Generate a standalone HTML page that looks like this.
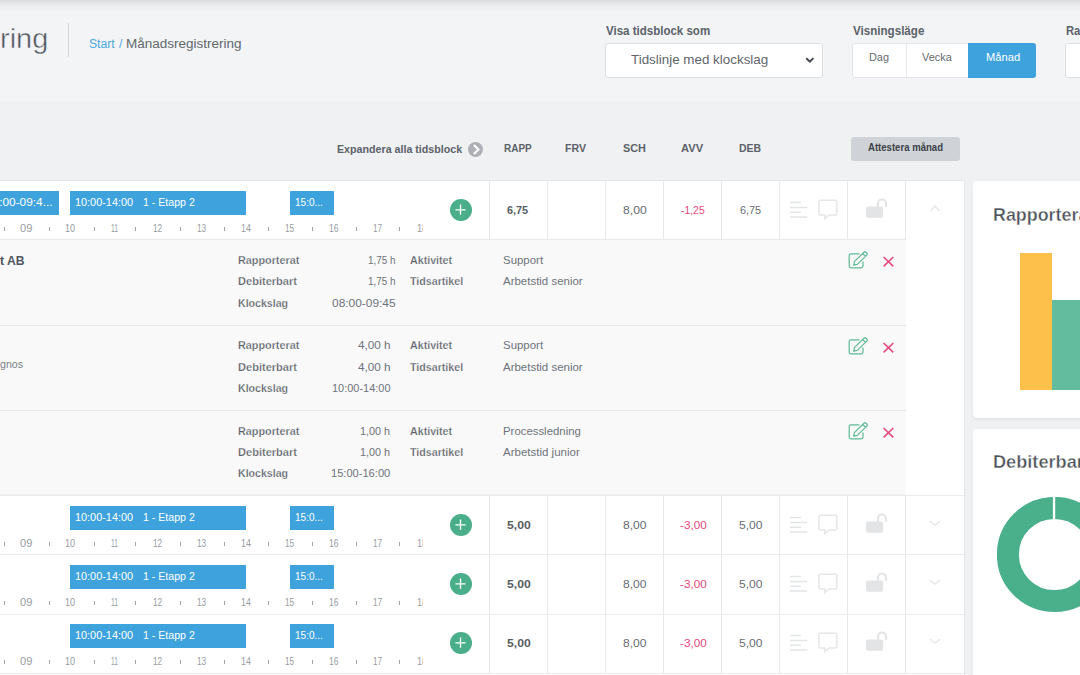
<!DOCTYPE html>
<html><head><meta charset="utf-8"><style>
html,body{margin:0;padding:0;}
body{width:1080px;height:675px;overflow:hidden;position:relative;background:#f0f1f3;font-family:"Liberation Sans", sans-serif;}
.t{position:absolute;white-space:nowrap;}
.r{position:absolute;}
.clip{position:absolute;overflow:hidden;}
.card{position:absolute;background:#fff;border-radius:4px;box-shadow:0 2px 3px rgba(0,0,0,0.06);}
</style></head><body>
<div class="r" style="left:0px;top:0px;width:1080px;height:101px;background:linear-gradient(#dbdcdf 0px,#dfe0e3 1.5px,#e5e6e8 3.5px,#ebecee 6px,#f0f1f3 9px,#f3f4f6 12px);"></div>
<div class="t" style="left:-0.33px;top:24.70px;font-size:28px;line-height:28px;color:#51575e;font-weight:400;transform:scaleX(1.0336);transform-origin:0 0;-webkit-text-stroke:0.45px #f3f4f6;paint-order:normal;">ring</div>
<div class="r" style="left:68px;top:23px;width:1px;height:34px;background:#d3d6d9;"></div>
<div class="t" style="left:88.70px;top:37.72px;font-size:12.5px;line-height:12.5px;color:#4aa8e0;font-weight:400;transform:scaleX(0.9731);transform-origin:0 0;">Start</div>
<div class="t" style="left:118.60px;top:37.72px;font-size:12.5px;line-height:12.5px;color:#4aa8e0;font-weight:400;transform:scaleX(0.9750);transform-origin:0 0;">/</div>
<div class="t" style="left:125.82px;top:37.72px;font-size:12.5px;line-height:12.5px;color:#61676d;font-weight:400;transform:scaleX(1.0788);transform-origin:0 0;">Månadsregistrering</div>
<div class="t" style="left:605.60px;top:25.39px;font-size:12.3px;line-height:12.3px;color:#5c6269;font-weight:700;transform:scaleX(0.9367);transform-origin:0 0;">Visa tidsblock som</div>
<div class="r" style="left:605px;top:43px;width:218px;height:35px;background:#fff;border:1px solid #dcdfe2;border-radius:3px;box-sizing:border-box;"></div>
<div class="t" style="left:631.25px;top:53.36px;font-size:13.4px;line-height:13.4px;color:#5f656b;font-weight:400;transform:scaleX(1.0001);transform-origin:0 0;">Tidslinje med klockslag</div>
<svg class="r" style="left:805px;top:56px" width="11" height="8" viewBox="0 0 11 8"><path d="M1.3 2.3 L4.9 5.7 L8.4 2.2" fill="none" stroke="#40464d" stroke-width="1.9"/></svg>
<div class="t" style="left:852.70px;top:25.39px;font-size:12.3px;line-height:12.3px;color:#5c6269;font-weight:700;transform:scaleX(0.9434);transform-origin:0 0;">Visningsläge</div>
<div class="r" style="left:852px;top:43px;width:184px;height:35px;background:#fff;border:1px solid #e2e4e7;border-radius:3px;box-sizing:border-box;"></div>
<div class="r" style="left:906px;top:44px;width:1px;height:33px;background:#e6e8ea;"></div>
<div class="r" style="left:968px;top:43px;width:68px;height:35px;background:#3ea3dd;border-radius:0 3px 3px 0;"></div>
<div class="t" style="left:869.40px;top:52.33px;font-size:11.3px;line-height:11.3px;color:#656b71;font-weight:400;transform:scaleX(0.9637);transform-origin:0 0;">Dag</div>
<div class="t" style="left:921.90px;top:52.33px;font-size:11.3px;line-height:11.3px;color:#656b71;font-weight:400;transform:scaleX(0.9685);transform-origin:0 0;">Vecka</div>
<div class="t" style="left:985.50px;top:52.33px;font-size:11.3px;line-height:11.3px;color:#ffffff;font-weight:400;transform:scaleX(0.9866);transform-origin:0 0;">Månad</div>
<div class="t" style="left:1066.00px;top:25.39px;font-size:12.3px;line-height:12.3px;color:#5c6269;font-weight:700;transform:scaleX(0.9131);transform-origin:0 0;">Ra</div>
<div class="r" style="left:1065px;top:43px;width:40px;height:35px;background:#fff;border:1px solid #dcdfe2;border-radius:3px;box-sizing:border-box;"></div>
<div class="t" style="left:337.20px;top:144.27px;font-size:11.5px;line-height:11.5px;color:#5c6269;font-weight:700;transform:scaleX(0.9280);transform-origin:0 0;">Expandera alla tidsblock</div>
<svg class="r" style="left:468.4px;top:141.9px" width="15" height="15" viewBox="0 0 15 15"><circle cx="7.5" cy="7.5" r="7.5" fill="#adb1b5"/><path d="M5.9 3 L10.4 7.6 L5.9 12" fill="none" stroke="#fff" stroke-width="2.2"/></svg>
<div class="t" style="left:503.90px;top:143.27px;font-size:11.5px;line-height:11.5px;color:#5c6269;font-weight:700;transform:scaleX(0.8674);transform-origin:0 0;">RAPP</div>
<div class="t" style="left:565.00px;top:143.27px;font-size:11.5px;line-height:11.5px;color:#5c6269;font-weight:700;transform:scaleX(0.9255);transform-origin:0 0;">FRV</div>
<div class="t" style="left:622.70px;top:143.27px;font-size:11.5px;line-height:11.5px;color:#5c6269;font-weight:700;transform:scaleX(0.9426);transform-origin:0 0;">SCH</div>
<div class="t" style="left:680.90px;top:143.27px;font-size:11.5px;line-height:11.5px;color:#5c6269;font-weight:700;transform:scaleX(0.9688);transform-origin:0 0;">AVV</div>
<div class="t" style="left:739.30px;top:143.27px;font-size:11.5px;line-height:11.5px;color:#5c6269;font-weight:700;transform:scaleX(0.9093);transform-origin:0 0;">DEB</div>
<div class="r" style="left:851px;top:137px;width:108.5px;height:23.5px;background:#cfd3d7;border-radius:3px;"></div>
<div class="t" style="left:868.20px;top:142.41px;font-size:10.5px;line-height:10.5px;color:#3c4148;font-weight:700;transform:scaleX(0.9113);transform-origin:0 0;">Attestera månad</div>
<div class="r" style="left:0px;top:180px;width:964px;height:59px;background:#fff;"></div>
<div class="r" style="left:0px;top:180px;width:964px;height:1px;background:#e4e5e7;"></div>
<div class="clip" style="left:0;top:180px;width:423px;height:59px;">
<div class="r" style="left:-20px;top:11px;width:79px;height:24px;background:#3ea3dd;"></div>
<div class="t" style="left:-13.64px;top:17.03px;font-size:11.3px;line-height:11.3px;color:#fff;font-weight:400;transform:scaleX(1.0497);transform-origin:0 0;">08:00-09:4...</div>
<div class="r" style="left:70px;top:11px;width:176px;height:24px;background:#3ea3dd;"></div>
<div class="t" style="left:75.40px;top:17.03px;font-size:11.3px;line-height:11.3px;color:#fff;font-weight:400;transform:scaleX(0.9630);transform-origin:0 0;">10:00-14:00</div>
<div class="t" style="left:143.40px;top:17.03px;font-size:11.3px;line-height:11.3px;color:#fff;font-weight:400;transform:scaleX(0.9367);transform-origin:0 0;">1 - Etapp 2</div>
<div class="r" style="left:290px;top:11px;width:44px;height:24px;background:#3ea3dd;"></div>
<div class="t" style="left:295.20px;top:17.03px;font-size:11.3px;line-height:11.3px;color:#fff;font-weight:400;transform:scaleX(0.8860);transform-origin:0 0;">15:0...</div>
<div class="t" style="left:19.90px;top:43.43px;font-size:11.3px;line-height:11.3px;color:#979ca1;font-weight:400;transform:scaleX(0.9770);transform-origin:0 0;">09</div>
<div class="t" style="left:65.00px;top:43.43px;font-size:11.3px;line-height:11.3px;color:#979ca1;font-weight:400;transform:scaleX(0.7979);transform-origin:0 0;">10</div>
<div class="t" style="left:110.50px;top:43.43px;font-size:11.3px;line-height:11.3px;color:#979ca1;font-weight:400;transform:scaleX(0.5942);transform-origin:0 0;">11</div>
<div class="t" style="left:153.10px;top:43.43px;font-size:11.3px;line-height:11.3px;color:#979ca1;font-weight:400;transform:scaleX(0.7327);transform-origin:0 0;">12</div>
<div class="t" style="left:197.00px;top:43.43px;font-size:11.3px;line-height:11.3px;color:#979ca1;font-weight:400;transform:scaleX(0.7327);transform-origin:0 0;">13</div>
<div class="t" style="left:241.00px;top:43.43px;font-size:11.3px;line-height:11.3px;color:#979ca1;font-weight:400;transform:scaleX(0.7816);transform-origin:0 0;">14</div>
<div class="t" style="left:285.30px;top:43.43px;font-size:11.3px;line-height:11.3px;color:#979ca1;font-weight:400;transform:scaleX(0.7246);transform-origin:0 0;">15</div>
<div class="t" style="left:329.20px;top:43.43px;font-size:11.3px;line-height:11.3px;color:#979ca1;font-weight:400;transform:scaleX(0.7572);transform-origin:0 0;">16</div>
<div class="t" style="left:373.10px;top:43.43px;font-size:11.3px;line-height:11.3px;color:#979ca1;font-weight:400;transform:scaleX(0.7246);transform-origin:0 0;">17</div>
<div class="t" style="left:417.10px;top:43.43px;font-size:11.3px;line-height:11.3px;color:#979ca1;font-weight:400;transform:scaleX(0.8060);transform-origin:0 0;">18</div>
<div class="r" style="left:4px;top:47px;width:1.2px;height:4px;background:#a0a5aa;"></div>
<div class="r" style="left:49px;top:47px;width:1.2px;height:4px;background:#a0a5aa;"></div>
<div class="r" style="left:94px;top:47px;width:1.2px;height:4px;background:#a0a5aa;"></div>
<div class="r" style="left:135px;top:47px;width:1.2px;height:4px;background:#a0a5aa;"></div>
<div class="r" style="left:180px;top:47px;width:1.2px;height:4px;background:#a0a5aa;"></div>
<div class="r" style="left:224px;top:47px;width:1.2px;height:4px;background:#a0a5aa;"></div>
<div class="r" style="left:268px;top:47px;width:1.2px;height:4px;background:#a0a5aa;"></div>
<div class="r" style="left:312px;top:47px;width:1.2px;height:4px;background:#a0a5aa;"></div>
<div class="r" style="left:356px;top:47px;width:1.2px;height:4px;background:#a0a5aa;"></div>
<div class="r" style="left:399px;top:47px;width:1.2px;height:4px;background:#a0a5aa;"></div>
</div>
<svg class="r" style="left:450px;top:198.9px" width="22" height="22" viewBox="0 0 22 22"><circle cx="11" cy="11" r="11" fill="#4aae8a"/><path d="M10.5 5.6 V15.8 M5.4 10.8 H15.6" stroke="#fff" stroke-width="1.35"/></svg>
<div class="r" style="left:489px;top:180px;width:1px;height:59px;background:#e8e9eb;"></div>
<div class="r" style="left:547px;top:180px;width:1px;height:59px;background:#e8e9eb;"></div>
<div class="r" style="left:605px;top:180px;width:1px;height:59px;background:#e8e9eb;"></div>
<div class="r" style="left:663px;top:180px;width:1px;height:59px;background:#e8e9eb;"></div>
<div class="r" style="left:721px;top:180px;width:1px;height:59px;background:#e8e9eb;"></div>
<div class="r" style="left:779px;top:180px;width:1px;height:59px;background:#e8e9eb;"></div>
<div class="r" style="left:847px;top:180px;width:1px;height:59px;background:#e8e9eb;"></div>
<div class="r" style="left:905px;top:180px;width:1px;height:59px;background:#e8e9eb;"></div>
<div class="t" style="left:507.20px;top:204.67px;font-size:11.5px;line-height:11.5px;color:#575d63;font-weight:700;transform:scaleX(0.9440);transform-origin:0 0;">6,75</div>
<div class="t" style="left:622.60px;top:204.67px;font-size:11.5px;line-height:11.5px;color:#676c72;font-weight:400;transform:scaleX(1.0597);transform-origin:0 0;">8,00</div>
<div class="t" style="left:681.10px;top:204.67px;font-size:11.5px;line-height:11.5px;color:#e5467c;font-weight:400;transform:scaleX(0.9025);transform-origin:0 0;">-1,25</div>
<div class="t" style="left:740.30px;top:204.67px;font-size:11.5px;line-height:11.5px;color:#676c72;font-weight:400;transform:scaleX(0.9460);transform-origin:0 0;">6,75</div>
<svg class="r" style="left:789px;top:200px" width="20" height="20" viewBox="0 0 20 20"><path d="M1 2.6H12 M1 7.4H18.3 M1 12.2H12 M1 17H18.3" stroke="#e4e5e7" stroke-width="1.5"/></svg>
<svg class="r" style="left:818px;top:199px" width="20" height="21" viewBox="0 0 20 21"><path d="M2.2 1.15 H17.6 Q18.85 1.15 18.85 2.4 V14.8 Q18.85 16.05 17.6 16.05 H11.2 L6.8 19.6 V16.05 H2.2 Q0.95 16.05 0.95 14.8 V2.4 Q0.95 1.15 2.2 1.15 Z" fill="none" stroke="#e5e6e8" stroke-width="1.45"/></svg>
<svg class="r" style="left:865px;top:197px" width="24" height="22" viewBox="0 0 24 22"><path d="M13 10 V6.5 A4 4 0 0 1 21 6.5 V9.8" fill="none" stroke="#e3e4e6" stroke-width="2.2"/><rect x="1.1" y="9.5" width="17" height="11.3" rx="1.8" fill="#e3e4e6"/></svg>
<svg class="r" style="left:929px;top:204px" width="12" height="8" viewBox="0 0 12 8"><path d="M1.8 6.5 L6 2 L10.5 6.7" fill="none" stroke="#e6e7e9" stroke-width="1.4"/></svg>
<div class="r" style="left:0px;top:239px;width:964px;height:256px;background:#fff;"></div>
<div class="r" style="left:0px;top:239px;width:906px;height:256px;background:#f9f9f9;"></div>
<div class="r" style="left:0px;top:239px;width:906px;height:1px;background:#e8e9eb;"></div>
<div class="r" style="left:0px;top:494px;width:906px;height:1px;background:#eeeff1;"></div>
<div class="t" style="left:238.00px;top:255.49px;font-size:11px;line-height:11px;color:#585e65;font-weight:700;transform:scaleX(0.9828);transform-origin:0 0;-webkit-text-stroke:0.25px #f9f9f9;">Rapporterat</div>
<div class="t" style="left:238.00px;top:276.39px;font-size:11px;line-height:11px;color:#585e65;font-weight:700;transform:scaleX(1.0048);transform-origin:0 0;-webkit-text-stroke:0.25px #f9f9f9;">Debiterbart</div>
<div class="t" style="left:238.00px;top:297.99px;font-size:11px;line-height:11px;color:#585e65;font-weight:700;transform:scaleX(0.9620);transform-origin:0 0;-webkit-text-stroke:0.25px #f9f9f9;">Klockslag</div>
<div class="t" style="left:368.00px;top:255.49px;font-size:11px;line-height:11px;color:#6e7379;font-weight:400;transform:scaleX(0.9027);transform-origin:0 0;">1,75 h</div>
<div class="t" style="left:368.00px;top:276.39px;font-size:11px;line-height:11px;color:#6e7379;font-weight:400;transform:scaleX(0.9027);transform-origin:0 0;">1,75 h</div>
<div class="t" style="left:332.00px;top:297.99px;font-size:11px;line-height:11px;color:#6e7379;font-weight:400;transform:scaleX(1.0836);transform-origin:0 0;">08:00-09:45</div>
<div class="t" style="left:409.90px;top:255.49px;font-size:11px;line-height:11px;color:#585e65;font-weight:700;transform:scaleX(0.9695);transform-origin:0 0;-webkit-text-stroke:0.25px #f9f9f9;">Aktivitet</div>
<div class="t" style="left:409.90px;top:276.39px;font-size:11px;line-height:11px;color:#585e65;font-weight:700;transform:scaleX(0.9696);transform-origin:0 0;-webkit-text-stroke:0.25px #f9f9f9;">Tidsartikel</div>
<div class="t" style="left:503.00px;top:255.49px;font-size:11px;line-height:11px;color:#6e7379;font-weight:400;transform:scaleX(1.0398);transform-origin:0 0;">Support</div>
<div class="t" style="left:503.00px;top:276.39px;font-size:11px;line-height:11px;color:#6e7379;font-weight:400;transform:scaleX(1.0422);transform-origin:0 0;">Arbetstid senior</div>
<svg class="r" style="left:848px;top:251px" width="21" height="19" viewBox="0 0 21 19"><path d="M11.4 2.9 H3 Q1.2 2.9 1.2 4.7 V15 Q1.2 16.8 3 16.8 H13.2 Q15 16.8 15 15 V10.5" fill="none" stroke="#5dbb96" stroke-width="1.2"/><g transform="translate(5.6 14.1) rotate(-44)"><path d="M0 0 L3.2 -2 H16.4 Q17.9 -2 17.9 -0.5 V0.5 Q17.9 2 16.4 2 H3.2 Z M14.6 -2 V2" fill="none" stroke="#5dbb96" stroke-width="1.2" stroke-linejoin="round"/></g></svg>
<svg class="r" style="left:882px;top:254.5px" width="13" height="13" viewBox="0 0 13 13"><path d="M1.6 2 L11.3 11.3 M11.3 2 L1.6 11.3" stroke="#e5497f" stroke-width="1.6"/></svg>
<div class="r" style="left:0px;top:325px;width:906px;height:1px;background:#e7e8ea;"></div>
<div class="t" style="left:238.00px;top:340.49px;font-size:11px;line-height:11px;color:#585e65;font-weight:700;transform:scaleX(0.9828);transform-origin:0 0;-webkit-text-stroke:0.25px #f9f9f9;">Rapporterat</div>
<div class="t" style="left:238.00px;top:361.59px;font-size:11px;line-height:11px;color:#585e65;font-weight:700;transform:scaleX(1.0048);transform-origin:0 0;-webkit-text-stroke:0.25px #f9f9f9;">Debiterbart</div>
<div class="t" style="left:238.00px;top:383.09px;font-size:11px;line-height:11px;color:#585e65;font-weight:700;transform:scaleX(0.9620);transform-origin:0 0;-webkit-text-stroke:0.25px #f9f9f9;">Klockslag</div>
<div class="t" style="left:357.60px;top:340.49px;font-size:11px;line-height:11px;color:#6e7379;font-weight:400;transform:scaleX(1.0668);transform-origin:0 0;">4,00 h</div>
<div class="t" style="left:357.60px;top:361.59px;font-size:11px;line-height:11px;color:#6e7379;font-weight:400;transform:scaleX(1.0668);transform-origin:0 0;">4,00 h</div>
<div class="t" style="left:331.70px;top:383.09px;font-size:11px;line-height:11px;color:#6e7379;font-weight:400;transform:scaleX(0.9966);transform-origin:0 0;">10:00-14:00</div>
<div class="t" style="left:409.90px;top:340.49px;font-size:11px;line-height:11px;color:#585e65;font-weight:700;transform:scaleX(0.9695);transform-origin:0 0;-webkit-text-stroke:0.25px #f9f9f9;">Aktivitet</div>
<div class="t" style="left:409.90px;top:361.59px;font-size:11px;line-height:11px;color:#585e65;font-weight:700;transform:scaleX(0.9696);transform-origin:0 0;-webkit-text-stroke:0.25px #f9f9f9;">Tidsartikel</div>
<div class="t" style="left:503.00px;top:340.49px;font-size:11px;line-height:11px;color:#6e7379;font-weight:400;transform:scaleX(1.0398);transform-origin:0 0;">Support</div>
<div class="t" style="left:503.00px;top:361.59px;font-size:11px;line-height:11px;color:#6e7379;font-weight:400;transform:scaleX(1.0422);transform-origin:0 0;">Arbetstid senior</div>
<svg class="r" style="left:848px;top:337px" width="21" height="19" viewBox="0 0 21 19"><path d="M11.4 2.9 H3 Q1.2 2.9 1.2 4.7 V15 Q1.2 16.8 3 16.8 H13.2 Q15 16.8 15 15 V10.5" fill="none" stroke="#5dbb96" stroke-width="1.2"/><g transform="translate(5.6 14.1) rotate(-44)"><path d="M0 0 L3.2 -2 H16.4 Q17.9 -2 17.9 -0.5 V0.5 Q17.9 2 16.4 2 H3.2 Z M14.6 -2 V2" fill="none" stroke="#5dbb96" stroke-width="1.2" stroke-linejoin="round"/></g></svg>
<svg class="r" style="left:882px;top:340.5px" width="13" height="13" viewBox="0 0 13 13"><path d="M1.6 2 L11.3 11.3 M11.3 2 L1.6 11.3" stroke="#e5497f" stroke-width="1.6"/></svg>
<div class="r" style="left:0px;top:410px;width:906px;height:1px;background:#e7e8ea;"></div>
<div class="t" style="left:238.00px;top:425.79px;font-size:11px;line-height:11px;color:#585e65;font-weight:700;transform:scaleX(0.9828);transform-origin:0 0;-webkit-text-stroke:0.25px #f9f9f9;">Rapporterat</div>
<div class="t" style="left:238.00px;top:446.99px;font-size:11px;line-height:11px;color:#585e65;font-weight:700;transform:scaleX(1.0048);transform-origin:0 0;-webkit-text-stroke:0.25px #f9f9f9;">Debiterbart</div>
<div class="t" style="left:238.00px;top:468.09px;font-size:11px;line-height:11px;color:#585e65;font-weight:700;transform:scaleX(0.9620);transform-origin:0 0;-webkit-text-stroke:0.25px #f9f9f9;">Klockslag</div>
<div class="t" style="left:360.20px;top:425.79px;font-size:11px;line-height:11px;color:#6e7379;font-weight:400;transform:scaleX(0.9814);transform-origin:0 0;">1,00 h</div>
<div class="t" style="left:360.20px;top:446.99px;font-size:11px;line-height:11px;color:#6e7379;font-weight:400;transform:scaleX(0.9814);transform-origin:0 0;">1,00 h</div>
<div class="t" style="left:331.00px;top:468.09px;font-size:11px;line-height:11px;color:#6e7379;font-weight:400;transform:scaleX(1.0085);transform-origin:0 0;">15:00-16:00</div>
<div class="t" style="left:409.90px;top:425.79px;font-size:11px;line-height:11px;color:#585e65;font-weight:700;transform:scaleX(0.9695);transform-origin:0 0;-webkit-text-stroke:0.25px #f9f9f9;">Aktivitet</div>
<div class="t" style="left:409.90px;top:446.99px;font-size:11px;line-height:11px;color:#585e65;font-weight:700;transform:scaleX(0.9696);transform-origin:0 0;-webkit-text-stroke:0.25px #f9f9f9;">Tidsartikel</div>
<div class="t" style="left:503.00px;top:425.79px;font-size:11px;line-height:11px;color:#6e7379;font-weight:400;transform:scaleX(1.0347);transform-origin:0 0;">Processledning</div>
<div class="t" style="left:503.00px;top:446.99px;font-size:11px;line-height:11px;color:#6e7379;font-weight:400;transform:scaleX(1.0460);transform-origin:0 0;">Arbetstid junior</div>
<svg class="r" style="left:848px;top:422px" width="21" height="19" viewBox="0 0 21 19"><path d="M11.4 2.9 H3 Q1.2 2.9 1.2 4.7 V15 Q1.2 16.8 3 16.8 H13.2 Q15 16.8 15 15 V10.5" fill="none" stroke="#5dbb96" stroke-width="1.2"/><g transform="translate(5.6 14.1) rotate(-44)"><path d="M0 0 L3.2 -2 H16.4 Q17.9 -2 17.9 -0.5 V0.5 Q17.9 2 16.4 2 H3.2 Z M14.6 -2 V2" fill="none" stroke="#5dbb96" stroke-width="1.2" stroke-linejoin="round"/></g></svg>
<svg class="r" style="left:882px;top:425.5px" width="13" height="13" viewBox="0 0 13 13"><path d="M1.6 2 L11.3 11.3 M11.3 2 L1.6 11.3" stroke="#e5497f" stroke-width="1.6"/></svg>
<div class="t" style="left:-0.50px;top:254.20px;font-size:13px;line-height:13px;color:#50565d;font-weight:700;transform:scaleX(0.9305);transform-origin:0 0;">t AB</div>
<div class="t" style="left:-0.50px;top:359.26px;font-size:10.8px;line-height:10.8px;color:#7a7f85;font-weight:400;transform:scaleX(0.9828);transform-origin:0 0;">gnos</div>
<div class="r" style="left:0px;top:495px;width:964px;height:59px;background:#fff;"></div>
<div class="r" style="left:0px;top:495px;width:964px;height:1px;background:#eaebed;"></div>
<div class="clip" style="left:0;top:495px;width:423px;height:59px;">
<div class="r" style="left:70px;top:11px;width:176px;height:24px;background:#3ea3dd;"></div>
<div class="t" style="left:75.40px;top:17.03px;font-size:11.3px;line-height:11.3px;color:#fff;font-weight:400;transform:scaleX(0.9630);transform-origin:0 0;">10:00-14:00</div>
<div class="t" style="left:143.40px;top:17.03px;font-size:11.3px;line-height:11.3px;color:#fff;font-weight:400;transform:scaleX(0.9367);transform-origin:0 0;">1 - Etapp 2</div>
<div class="r" style="left:290px;top:11px;width:44px;height:24px;background:#3ea3dd;"></div>
<div class="t" style="left:295.20px;top:17.03px;font-size:11.3px;line-height:11.3px;color:#fff;font-weight:400;transform:scaleX(0.8860);transform-origin:0 0;">15:0...</div>
<div class="t" style="left:19.90px;top:43.43px;font-size:11.3px;line-height:11.3px;color:#979ca1;font-weight:400;transform:scaleX(0.9770);transform-origin:0 0;">09</div>
<div class="t" style="left:65.00px;top:43.43px;font-size:11.3px;line-height:11.3px;color:#979ca1;font-weight:400;transform:scaleX(0.7979);transform-origin:0 0;">10</div>
<div class="t" style="left:110.50px;top:43.43px;font-size:11.3px;line-height:11.3px;color:#979ca1;font-weight:400;transform:scaleX(0.5942);transform-origin:0 0;">11</div>
<div class="t" style="left:153.10px;top:43.43px;font-size:11.3px;line-height:11.3px;color:#979ca1;font-weight:400;transform:scaleX(0.7327);transform-origin:0 0;">12</div>
<div class="t" style="left:197.00px;top:43.43px;font-size:11.3px;line-height:11.3px;color:#979ca1;font-weight:400;transform:scaleX(0.7327);transform-origin:0 0;">13</div>
<div class="t" style="left:241.00px;top:43.43px;font-size:11.3px;line-height:11.3px;color:#979ca1;font-weight:400;transform:scaleX(0.7816);transform-origin:0 0;">14</div>
<div class="t" style="left:285.30px;top:43.43px;font-size:11.3px;line-height:11.3px;color:#979ca1;font-weight:400;transform:scaleX(0.7246);transform-origin:0 0;">15</div>
<div class="t" style="left:329.20px;top:43.43px;font-size:11.3px;line-height:11.3px;color:#979ca1;font-weight:400;transform:scaleX(0.7572);transform-origin:0 0;">16</div>
<div class="t" style="left:373.10px;top:43.43px;font-size:11.3px;line-height:11.3px;color:#979ca1;font-weight:400;transform:scaleX(0.7246);transform-origin:0 0;">17</div>
<div class="t" style="left:417.10px;top:43.43px;font-size:11.3px;line-height:11.3px;color:#979ca1;font-weight:400;transform:scaleX(0.8060);transform-origin:0 0;">18</div>
<div class="r" style="left:4px;top:47px;width:1.2px;height:4px;background:#a0a5aa;"></div>
<div class="r" style="left:49px;top:47px;width:1.2px;height:4px;background:#a0a5aa;"></div>
<div class="r" style="left:94px;top:47px;width:1.2px;height:4px;background:#a0a5aa;"></div>
<div class="r" style="left:135px;top:47px;width:1.2px;height:4px;background:#a0a5aa;"></div>
<div class="r" style="left:180px;top:47px;width:1.2px;height:4px;background:#a0a5aa;"></div>
<div class="r" style="left:224px;top:47px;width:1.2px;height:4px;background:#a0a5aa;"></div>
<div class="r" style="left:268px;top:47px;width:1.2px;height:4px;background:#a0a5aa;"></div>
<div class="r" style="left:312px;top:47px;width:1.2px;height:4px;background:#a0a5aa;"></div>
<div class="r" style="left:356px;top:47px;width:1.2px;height:4px;background:#a0a5aa;"></div>
<div class="r" style="left:399px;top:47px;width:1.2px;height:4px;background:#a0a5aa;"></div>
</div>
<svg class="r" style="left:450px;top:513.9px" width="22" height="22" viewBox="0 0 22 22"><circle cx="11" cy="11" r="11" fill="#4aae8a"/><path d="M10.5 5.6 V15.8 M5.4 10.8 H15.6" stroke="#fff" stroke-width="1.35"/></svg>
<div class="r" style="left:489px;top:495px;width:1px;height:59px;background:#e8e9eb;"></div>
<div class="r" style="left:547px;top:495px;width:1px;height:59px;background:#e8e9eb;"></div>
<div class="r" style="left:605px;top:495px;width:1px;height:59px;background:#e8e9eb;"></div>
<div class="r" style="left:663px;top:495px;width:1px;height:59px;background:#e8e9eb;"></div>
<div class="r" style="left:721px;top:495px;width:1px;height:59px;background:#e8e9eb;"></div>
<div class="r" style="left:779px;top:495px;width:1px;height:59px;background:#e8e9eb;"></div>
<div class="r" style="left:847px;top:495px;width:1px;height:59px;background:#e8e9eb;"></div>
<div class="r" style="left:905px;top:495px;width:1px;height:59px;background:#e8e9eb;"></div>
<div class="t" style="left:506.70px;top:519.67px;font-size:11.5px;line-height:11.5px;color:#575d63;font-weight:700;transform:scaleX(1.0597);transform-origin:0 0;">5,00</div>
<div class="t" style="left:622.90px;top:519.67px;font-size:11.5px;line-height:11.5px;color:#676c72;font-weight:400;transform:scaleX(1.0506);transform-origin:0 0;">8,00</div>
<div class="t" style="left:679.60px;top:519.67px;font-size:11.5px;line-height:11.5px;color:#e5467c;font-weight:400;transform:scaleX(1.0226);transform-origin:0 0;">-3,00</div>
<div class="t" style="left:739.00px;top:519.67px;font-size:11.5px;line-height:11.5px;color:#676c72;font-weight:400;transform:scaleX(1.0461);transform-origin:0 0;">5,00</div>
<svg class="r" style="left:789px;top:515px" width="20" height="20" viewBox="0 0 20 20"><path d="M1 2.6H12 M1 7.4H18.3 M1 12.2H12 M1 17H18.3" stroke="#e4e5e7" stroke-width="1.5"/></svg>
<svg class="r" style="left:818px;top:514px" width="20" height="21" viewBox="0 0 20 21"><path d="M2.2 1.15 H17.6 Q18.85 1.15 18.85 2.4 V14.8 Q18.85 16.05 17.6 16.05 H11.2 L6.8 19.6 V16.05 H2.2 Q0.95 16.05 0.95 14.8 V2.4 Q0.95 1.15 2.2 1.15 Z" fill="none" stroke="#e5e6e8" stroke-width="1.45"/></svg>
<svg class="r" style="left:865px;top:512px" width="24" height="22" viewBox="0 0 24 22"><path d="M13 10 V6.5 A4 4 0 0 1 21 6.5 V9.8" fill="none" stroke="#e3e4e6" stroke-width="2.2"/><rect x="1.1" y="9.5" width="17" height="11.3" rx="1.8" fill="#e3e4e6"/></svg>
<svg class="r" style="left:929px;top:520px" width="12" height="8" viewBox="0 0 12 8"><path d="M1 1.1 L6 5.2 L11 1.1" fill="none" stroke="#e6e7e9" stroke-width="1.4"/></svg>
<div class="r" style="left:0px;top:554px;width:964px;height:60px;background:#fff;"></div>
<div class="r" style="left:0px;top:554px;width:964px;height:1px;background:#eaebed;"></div>
<div class="clip" style="left:0;top:554px;width:423px;height:60px;">
<div class="r" style="left:70px;top:11px;width:176px;height:24px;background:#3ea3dd;"></div>
<div class="t" style="left:75.40px;top:17.03px;font-size:11.3px;line-height:11.3px;color:#fff;font-weight:400;transform:scaleX(0.9630);transform-origin:0 0;">10:00-14:00</div>
<div class="t" style="left:143.40px;top:17.03px;font-size:11.3px;line-height:11.3px;color:#fff;font-weight:400;transform:scaleX(0.9367);transform-origin:0 0;">1 - Etapp 2</div>
<div class="r" style="left:290px;top:11px;width:44px;height:24px;background:#3ea3dd;"></div>
<div class="t" style="left:295.20px;top:17.03px;font-size:11.3px;line-height:11.3px;color:#fff;font-weight:400;transform:scaleX(0.8860);transform-origin:0 0;">15:0...</div>
<div class="t" style="left:19.90px;top:43.43px;font-size:11.3px;line-height:11.3px;color:#979ca1;font-weight:400;transform:scaleX(0.9770);transform-origin:0 0;">09</div>
<div class="t" style="left:65.00px;top:43.43px;font-size:11.3px;line-height:11.3px;color:#979ca1;font-weight:400;transform:scaleX(0.7979);transform-origin:0 0;">10</div>
<div class="t" style="left:110.50px;top:43.43px;font-size:11.3px;line-height:11.3px;color:#979ca1;font-weight:400;transform:scaleX(0.5942);transform-origin:0 0;">11</div>
<div class="t" style="left:153.10px;top:43.43px;font-size:11.3px;line-height:11.3px;color:#979ca1;font-weight:400;transform:scaleX(0.7327);transform-origin:0 0;">12</div>
<div class="t" style="left:197.00px;top:43.43px;font-size:11.3px;line-height:11.3px;color:#979ca1;font-weight:400;transform:scaleX(0.7327);transform-origin:0 0;">13</div>
<div class="t" style="left:241.00px;top:43.43px;font-size:11.3px;line-height:11.3px;color:#979ca1;font-weight:400;transform:scaleX(0.7816);transform-origin:0 0;">14</div>
<div class="t" style="left:285.30px;top:43.43px;font-size:11.3px;line-height:11.3px;color:#979ca1;font-weight:400;transform:scaleX(0.7246);transform-origin:0 0;">15</div>
<div class="t" style="left:329.20px;top:43.43px;font-size:11.3px;line-height:11.3px;color:#979ca1;font-weight:400;transform:scaleX(0.7572);transform-origin:0 0;">16</div>
<div class="t" style="left:373.10px;top:43.43px;font-size:11.3px;line-height:11.3px;color:#979ca1;font-weight:400;transform:scaleX(0.7246);transform-origin:0 0;">17</div>
<div class="t" style="left:417.10px;top:43.43px;font-size:11.3px;line-height:11.3px;color:#979ca1;font-weight:400;transform:scaleX(0.8060);transform-origin:0 0;">18</div>
<div class="r" style="left:4px;top:47px;width:1.2px;height:4px;background:#a0a5aa;"></div>
<div class="r" style="left:49px;top:47px;width:1.2px;height:4px;background:#a0a5aa;"></div>
<div class="r" style="left:94px;top:47px;width:1.2px;height:4px;background:#a0a5aa;"></div>
<div class="r" style="left:135px;top:47px;width:1.2px;height:4px;background:#a0a5aa;"></div>
<div class="r" style="left:180px;top:47px;width:1.2px;height:4px;background:#a0a5aa;"></div>
<div class="r" style="left:224px;top:47px;width:1.2px;height:4px;background:#a0a5aa;"></div>
<div class="r" style="left:268px;top:47px;width:1.2px;height:4px;background:#a0a5aa;"></div>
<div class="r" style="left:312px;top:47px;width:1.2px;height:4px;background:#a0a5aa;"></div>
<div class="r" style="left:356px;top:47px;width:1.2px;height:4px;background:#a0a5aa;"></div>
<div class="r" style="left:399px;top:47px;width:1.2px;height:4px;background:#a0a5aa;"></div>
</div>
<svg class="r" style="left:450px;top:572.9px" width="22" height="22" viewBox="0 0 22 22"><circle cx="11" cy="11" r="11" fill="#4aae8a"/><path d="M10.5 5.6 V15.8 M5.4 10.8 H15.6" stroke="#fff" stroke-width="1.35"/></svg>
<div class="r" style="left:489px;top:554px;width:1px;height:60px;background:#e8e9eb;"></div>
<div class="r" style="left:547px;top:554px;width:1px;height:60px;background:#e8e9eb;"></div>
<div class="r" style="left:605px;top:554px;width:1px;height:60px;background:#e8e9eb;"></div>
<div class="r" style="left:663px;top:554px;width:1px;height:60px;background:#e8e9eb;"></div>
<div class="r" style="left:721px;top:554px;width:1px;height:60px;background:#e8e9eb;"></div>
<div class="r" style="left:779px;top:554px;width:1px;height:60px;background:#e8e9eb;"></div>
<div class="r" style="left:847px;top:554px;width:1px;height:60px;background:#e8e9eb;"></div>
<div class="r" style="left:905px;top:554px;width:1px;height:60px;background:#e8e9eb;"></div>
<div class="t" style="left:506.70px;top:578.67px;font-size:11.5px;line-height:11.5px;color:#575d63;font-weight:700;transform:scaleX(1.0597);transform-origin:0 0;">5,00</div>
<div class="t" style="left:622.90px;top:578.67px;font-size:11.5px;line-height:11.5px;color:#676c72;font-weight:400;transform:scaleX(1.0506);transform-origin:0 0;">8,00</div>
<div class="t" style="left:679.60px;top:578.67px;font-size:11.5px;line-height:11.5px;color:#e5467c;font-weight:400;transform:scaleX(1.0226);transform-origin:0 0;">-3,00</div>
<div class="t" style="left:739.00px;top:578.67px;font-size:11.5px;line-height:11.5px;color:#676c72;font-weight:400;transform:scaleX(1.0461);transform-origin:0 0;">5,00</div>
<svg class="r" style="left:789px;top:574px" width="20" height="20" viewBox="0 0 20 20"><path d="M1 2.6H12 M1 7.4H18.3 M1 12.2H12 M1 17H18.3" stroke="#e4e5e7" stroke-width="1.5"/></svg>
<svg class="r" style="left:818px;top:573px" width="20" height="21" viewBox="0 0 20 21"><path d="M2.2 1.15 H17.6 Q18.85 1.15 18.85 2.4 V14.8 Q18.85 16.05 17.6 16.05 H11.2 L6.8 19.6 V16.05 H2.2 Q0.95 16.05 0.95 14.8 V2.4 Q0.95 1.15 2.2 1.15 Z" fill="none" stroke="#e5e6e8" stroke-width="1.45"/></svg>
<svg class="r" style="left:865px;top:571px" width="24" height="22" viewBox="0 0 24 22"><path d="M13 10 V6.5 A4 4 0 0 1 21 6.5 V9.8" fill="none" stroke="#e3e4e6" stroke-width="2.2"/><rect x="1.1" y="9.5" width="17" height="11.3" rx="1.8" fill="#e3e4e6"/></svg>
<svg class="r" style="left:929px;top:579px" width="12" height="8" viewBox="0 0 12 8"><path d="M1 1.1 L6 5.2 L11 1.1" fill="none" stroke="#e6e7e9" stroke-width="1.4"/></svg>
<div class="r" style="left:0px;top:614px;width:964px;height:59px;background:#fff;"></div>
<div class="r" style="left:0px;top:614px;width:964px;height:1px;background:#eaebed;"></div>
<div class="clip" style="left:0;top:613px;width:423px;height:60px;">
<div class="r" style="left:70px;top:11px;width:176px;height:24px;background:#3ea3dd;"></div>
<div class="t" style="left:75.40px;top:17.03px;font-size:11.3px;line-height:11.3px;color:#fff;font-weight:400;transform:scaleX(0.9630);transform-origin:0 0;">10:00-14:00</div>
<div class="t" style="left:143.40px;top:17.03px;font-size:11.3px;line-height:11.3px;color:#fff;font-weight:400;transform:scaleX(0.9367);transform-origin:0 0;">1 - Etapp 2</div>
<div class="r" style="left:290px;top:11px;width:44px;height:24px;background:#3ea3dd;"></div>
<div class="t" style="left:295.20px;top:17.03px;font-size:11.3px;line-height:11.3px;color:#fff;font-weight:400;transform:scaleX(0.8860);transform-origin:0 0;">15:0...</div>
<div class="t" style="left:19.90px;top:43.43px;font-size:11.3px;line-height:11.3px;color:#979ca1;font-weight:400;transform:scaleX(0.9770);transform-origin:0 0;">09</div>
<div class="t" style="left:65.00px;top:43.43px;font-size:11.3px;line-height:11.3px;color:#979ca1;font-weight:400;transform:scaleX(0.7979);transform-origin:0 0;">10</div>
<div class="t" style="left:110.50px;top:43.43px;font-size:11.3px;line-height:11.3px;color:#979ca1;font-weight:400;transform:scaleX(0.5942);transform-origin:0 0;">11</div>
<div class="t" style="left:153.10px;top:43.43px;font-size:11.3px;line-height:11.3px;color:#979ca1;font-weight:400;transform:scaleX(0.7327);transform-origin:0 0;">12</div>
<div class="t" style="left:197.00px;top:43.43px;font-size:11.3px;line-height:11.3px;color:#979ca1;font-weight:400;transform:scaleX(0.7327);transform-origin:0 0;">13</div>
<div class="t" style="left:241.00px;top:43.43px;font-size:11.3px;line-height:11.3px;color:#979ca1;font-weight:400;transform:scaleX(0.7816);transform-origin:0 0;">14</div>
<div class="t" style="left:285.30px;top:43.43px;font-size:11.3px;line-height:11.3px;color:#979ca1;font-weight:400;transform:scaleX(0.7246);transform-origin:0 0;">15</div>
<div class="t" style="left:329.20px;top:43.43px;font-size:11.3px;line-height:11.3px;color:#979ca1;font-weight:400;transform:scaleX(0.7572);transform-origin:0 0;">16</div>
<div class="t" style="left:373.10px;top:43.43px;font-size:11.3px;line-height:11.3px;color:#979ca1;font-weight:400;transform:scaleX(0.7246);transform-origin:0 0;">17</div>
<div class="t" style="left:417.10px;top:43.43px;font-size:11.3px;line-height:11.3px;color:#979ca1;font-weight:400;transform:scaleX(0.8060);transform-origin:0 0;">18</div>
<div class="r" style="left:4px;top:47px;width:1.2px;height:4px;background:#a0a5aa;"></div>
<div class="r" style="left:49px;top:47px;width:1.2px;height:4px;background:#a0a5aa;"></div>
<div class="r" style="left:94px;top:47px;width:1.2px;height:4px;background:#a0a5aa;"></div>
<div class="r" style="left:135px;top:47px;width:1.2px;height:4px;background:#a0a5aa;"></div>
<div class="r" style="left:180px;top:47px;width:1.2px;height:4px;background:#a0a5aa;"></div>
<div class="r" style="left:224px;top:47px;width:1.2px;height:4px;background:#a0a5aa;"></div>
<div class="r" style="left:268px;top:47px;width:1.2px;height:4px;background:#a0a5aa;"></div>
<div class="r" style="left:312px;top:47px;width:1.2px;height:4px;background:#a0a5aa;"></div>
<div class="r" style="left:356px;top:47px;width:1.2px;height:4px;background:#a0a5aa;"></div>
<div class="r" style="left:399px;top:47px;width:1.2px;height:4px;background:#a0a5aa;"></div>
</div>
<svg class="r" style="left:450px;top:631.9px" width="22" height="22" viewBox="0 0 22 22"><circle cx="11" cy="11" r="11" fill="#4aae8a"/><path d="M10.5 5.6 V15.8 M5.4 10.8 H15.6" stroke="#fff" stroke-width="1.35"/></svg>
<div class="r" style="left:489px;top:614px;width:1px;height:59px;background:#e8e9eb;"></div>
<div class="r" style="left:547px;top:614px;width:1px;height:59px;background:#e8e9eb;"></div>
<div class="r" style="left:605px;top:614px;width:1px;height:59px;background:#e8e9eb;"></div>
<div class="r" style="left:663px;top:614px;width:1px;height:59px;background:#e8e9eb;"></div>
<div class="r" style="left:721px;top:614px;width:1px;height:59px;background:#e8e9eb;"></div>
<div class="r" style="left:779px;top:614px;width:1px;height:59px;background:#e8e9eb;"></div>
<div class="r" style="left:847px;top:614px;width:1px;height:59px;background:#e8e9eb;"></div>
<div class="r" style="left:905px;top:614px;width:1px;height:59px;background:#e8e9eb;"></div>
<div class="t" style="left:506.70px;top:637.67px;font-size:11.5px;line-height:11.5px;color:#575d63;font-weight:700;transform:scaleX(1.0597);transform-origin:0 0;">5,00</div>
<div class="t" style="left:622.90px;top:637.67px;font-size:11.5px;line-height:11.5px;color:#676c72;font-weight:400;transform:scaleX(1.0506);transform-origin:0 0;">8,00</div>
<div class="t" style="left:679.60px;top:637.67px;font-size:11.5px;line-height:11.5px;color:#e5467c;font-weight:400;transform:scaleX(1.0226);transform-origin:0 0;">-3,00</div>
<div class="t" style="left:739.00px;top:637.67px;font-size:11.5px;line-height:11.5px;color:#676c72;font-weight:400;transform:scaleX(1.0461);transform-origin:0 0;">5,00</div>
<svg class="r" style="left:789px;top:633px" width="20" height="20" viewBox="0 0 20 20"><path d="M1 2.6H12 M1 7.4H18.3 M1 12.2H12 M1 17H18.3" stroke="#e4e5e7" stroke-width="1.5"/></svg>
<svg class="r" style="left:818px;top:632px" width="20" height="21" viewBox="0 0 20 21"><path d="M2.2 1.15 H17.6 Q18.85 1.15 18.85 2.4 V14.8 Q18.85 16.05 17.6 16.05 H11.2 L6.8 19.6 V16.05 H2.2 Q0.95 16.05 0.95 14.8 V2.4 Q0.95 1.15 2.2 1.15 Z" fill="none" stroke="#e5e6e8" stroke-width="1.45"/></svg>
<svg class="r" style="left:865px;top:630px" width="24" height="22" viewBox="0 0 24 22"><path d="M13 10 V6.5 A4 4 0 0 1 21 6.5 V9.8" fill="none" stroke="#e3e4e6" stroke-width="2.2"/><rect x="1.1" y="9.5" width="17" height="11.3" rx="1.8" fill="#e3e4e6"/></svg>
<svg class="r" style="left:929px;top:638px" width="12" height="8" viewBox="0 0 12 8"><path d="M1 1.1 L6 5.2 L11 1.1" fill="none" stroke="#e6e7e9" stroke-width="1.4"/></svg>
<div class="r" style="left:0px;top:673px;width:964px;height:1px;background:#e8e9eb;"></div>
<div class="r" style="left:0px;top:674px;width:964px;height:1px;background:#fff;"></div>
<div class="r" style="left:964px;top:180px;width:1px;height:495px;background:#e5e6e8;"></div>
<div class="card" style="left:973px;top:181px;width:130px;height:237px;"></div>
<div class="t" style="left:992.73px;top:206.59px;font-size:17.5px;line-height:17.5px;color:#4c535a;font-weight:700;transform:scaleX(1.0210);transform-origin:0 0;-webkit-text-stroke:0.35px #fff;">Rapporterat</div>
<div class="r" style="left:1020px;top:253px;width:31.5px;height:137px;background:#fdc14b;"></div>
<div class="r" style="left:1051.5px;top:300px;width:40px;height:90px;background:#62bc9d;"></div>
<div class="card" style="left:973px;top:429px;width:130px;height:260px;"></div>
<div class="t" style="left:992.96px;top:454.19px;font-size:17.5px;line-height:17.5px;color:#4c535a;font-weight:700;transform:scaleX(1.0377);transform-origin:0 0;-webkit-text-stroke:0.35px #fff;">Debiterbart</div>
<svg class="r" style="left:997px;top:497px" width="116" height="116" viewBox="0 0 116 116"><circle cx="57.5" cy="57.5" r="46.6" fill="none" stroke="#4ab08c" stroke-width="22"/><rect x="55.9" y="0" width="2.3" height="24" fill="#fff"/></svg>
</body></html>
